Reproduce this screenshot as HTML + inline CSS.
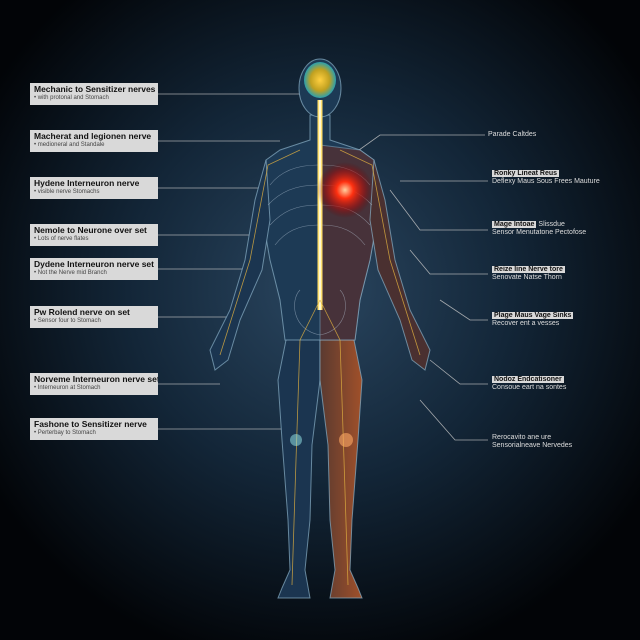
<!DOCTYPE html>
<html><head><style>
html,body{margin:0;padding:0;width:640px;height:640px;overflow:hidden;background:#000}
.lb{position:absolute;background:#d9d9d9;font-family:"Liberation Sans",sans-serif;color:#111;font-size:8px;line-height:9px;padding:2px 4px;white-space:nowrap;overflow:hidden}
.lb b{display:block;font-size:8.5px}
.lb i{display:block;font-style:normal;font-size:6px;color:#444}
.rt{position:absolute;font-family:"Liberation Sans",sans-serif;color:#ddd;font-size:7px;line-height:8px;white-space:nowrap}
.rt span{background:#d9d9d9;color:#111;font-weight:bold;padding:0 2px}
</style></head><body>
<svg width="640" height="640" style="position:absolute;left:0;top:0">
<defs>
<radialGradient id="bg" cx="50%" cy="45%" r="60%"><stop offset="0" stop-color="#2a4660"/><stop offset="0.5" stop-color="#132638"/><stop offset="1" stop-color="#020407"/></radialGradient>
<radialGradient id="heart" cx="50%" cy="50%" r="50%"><stop offset="0" stop-color="#ffd0a0"/><stop offset="0.3" stop-color="#ff3010"/><stop offset="0.7" stop-color="#a01010" stop-opacity="0.6"/><stop offset="1" stop-color="#600" stop-opacity="0"/></radialGradient>
<radialGradient id="brain" cx="50%" cy="50%" r="50%"><stop offset="0" stop-color="#ffd040"/><stop offset="0.6" stop-color="#c0a020"/><stop offset="1" stop-color="#2aa0b0"/></radialGradient>
<linearGradient id="rleg" x1="0" x2="1"><stop offset="0" stop-color="#5a3a30"/><stop offset="1" stop-color="#a0502a"/></linearGradient>
</defs>
<rect width="640" height="640" fill="url(#bg)"/>
<g stroke="#c8c8c8" stroke-width="0.8" fill="none" opacity="0.8">
<path d="M158 94H300"/><path d="M158 141H280"/><path d="M158 188H260"/><path d="M158 235H250"/><path d="M158 269H245"/><path d="M158 317H235"/><path d="M158 384H220"/><path d="M158 429H285"/>
<path d="M485 135H380L345 160"/><path d="M488 181H400"/><path d="M488 230H420L390 190"/><path d="M488 274H430L410 250"/><path d="M488 320H470L440 300"/><path d="M488 384H460L430 360"/><path d="M488 440H455L420 400"/>
</g>
<g stroke="#8ab0c8" stroke-width="1" stroke-opacity="0.7">
<path d="M320 335 L288 330 L278 380 L282 440 L288 520 L290 570 L282 588 L278 598 L310 598 L305 570 L310 520 L312 445 L320 380Z" fill="#1b3550"/>
<path d="M320 335 L352 330 L362 380 L358 440 L352 520 L350 570 L358 588 L362 598 L330 598 L335 570 L330 520 L328 445 L320 380Z" fill="url(#rleg)"/>
<path d="M310 115 L310 140 L280 150 L266 160 L262 215 L270 260 L280 300 L285 340 L355 340 L360 300 L370 260 L378 215 L374 160 L360 150 L330 140 L330 115Z" fill="#1d3a55"/>
<path d="M320 145 L360 150 L374 160 L378 215 L370 260 L360 300 L355 340 L320 340Z" fill="#5a3030" opacity="0.7"/>
<path d="M266 160 L255 200 L245 260 L230 310 L210 350 L215 370 L228 360 L240 320 L262 270 L270 220Z" fill="#1b3550"/>
<path d="M374 160 L385 200 L395 260 L410 310 L430 350 L425 370 L412 360 L400 320 L378 270 L370 220Z" fill="#4a3030"/>
<ellipse cx="320" cy="88" rx="21" ry="29" fill="#1d3a55"/>
</g>
<ellipse cx="320" cy="80" rx="16" ry="18" fill="url(#brain)"/>
<path d="M320 100 L320 310" stroke="#ffe070" stroke-width="5"/>
<path d="M320 100 L320 310" stroke="#fff8d0" stroke-width="2"/>
<g stroke="#c0d0e0" stroke-width="0.6" fill="none" opacity="0.5">
<path d="M318 165 C295 165 280 172 270 185"/><path d="M318 185 C295 185 280 192 268 205"/><path d="M318 205 C295 205 282 212 270 225"/><path d="M318 225 C298 225 285 232 275 245"/>
<path d="M322 165 C345 165 360 172 370 185"/><path d="M322 185 C345 185 360 192 372 205"/><path d="M322 205 C345 205 358 212 370 225"/><path d="M322 225 C342 225 355 232 365 245"/>
<path d="M300 290 C290 300 292 330 320 335 C348 330 350 300 340 290"/>
</g>
<g stroke="#e0b040" stroke-width="0.8" fill="none" opacity="0.8">
<path d="M320 300 L300 340 L296 460 L292 585"/><path d="M320 300 L340 340 L344 460 L348 585"/>
<path d="M300 150 L268 165 L250 260 L220 355"/><path d="M340 150 L372 165 L390 260 L420 355"/>
</g>
<circle cx="345" cy="190" r="28" fill="url(#heart)"/>
<circle cx="296" cy="440" r="6" fill="#9ee" opacity="0.5"/><circle cx="346" cy="440" r="7" fill="#fa6" opacity="0.6"/>
</svg>
<div class="lb" style="left:30px;top:83px;width:120px"><b>Mechanic to Sensitizer nerves</b><i>• with protonal and Stomach</i></div>
<div class="lb" style="left:30px;top:130px;width:120px"><b>Macherat and legionen nerve</b><i>• medioneral and Standale</i></div>
<div class="lb" style="left:30px;top:177px;width:120px"><b>Hydene Interneuron nerve</b><i>• visible nerve Stomachs</i></div>
<div class="lb" style="left:30px;top:224px;width:120px"><b>Nemole to Neurone over set</b><i>• Lots of nerve flates</i></div>
<div class="lb" style="left:30px;top:258px;width:120px"><b>Dydene Interneuron nerve set</b><i>• Not the Nerve mid Branch</i></div>
<div class="lb" style="left:30px;top:306px;width:120px"><b>Pw Rolend nerve on set</b><i>• Sensor four to Stomach</i></div>
<div class="lb" style="left:30px;top:373px;width:120px"><b>Norveme Interneuron nerve set</b><i>• Interneuron at Stomach</i></div>
<div class="lb" style="left:30px;top:418px;width:120px"><b>Fashone to Sensitizer nerve</b><i>• Perterbay to Stomach</i></div>
<div class="rt" style="left:488px;top:131px">Parade Caltdes</div>
<div class="rt" style="left:492px;top:170px"><span>Ronky Lineat Reus</span><br>Deflexy Maus Sous Frees Mauture</div>
<div class="rt" style="left:492px;top:221px"><span>Mage Intoae</span> Slissdue<br>Sensor Menutatone Pectofose</div>
<div class="rt" style="left:492px;top:266px"><span>Reize line Nerve tore</span><br>Senovate Natse Thorn</div>
<div class="rt" style="left:492px;top:312px"><span>Plage Maus Vage Sinks</span><br>Recover ent a vesses</div>
<div class="rt" style="left:492px;top:376px"><span>Nodoz Endcatisoner</span><br>Consoue eart na sontes</div>
<div class="rt" style="left:492px;top:434px">Rerocavito ane ure<br>Sensorialneave Nervedes</div>
</body></html>
